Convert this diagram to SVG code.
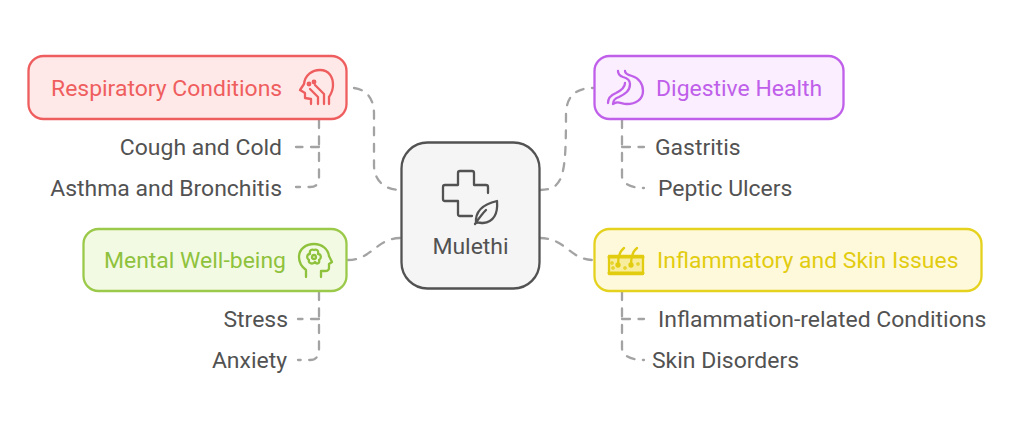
<svg xmlns="http://www.w3.org/2000/svg" width="1024" height="431" viewBox="0 0 1024 431">
<style>
text{font-family:Roboto,"Liberation Sans",sans-serif;font-size:22.95px}
.lab{fill:#525252}
.conn{fill:none;stroke:#a3a3a3;stroke-width:2.3;stroke-dasharray:8 8.5;stroke-linecap:round}
.ic{fill:none;stroke-width:2.3;stroke-linecap:round;stroke-linejoin:round}
</style>
<rect width="1024" height="431" fill="#fff"/>
<g id="connectors">
<path class="conn" d="M354 88C368 90 374 100 374 114V165C374 180 384 190 401 190"/>
<path class="conn" d="M319 120V178C319 184 316 187 310 187H296"/>
<path class="conn" d="M319 147H296"/>
<path class="conn" d="M348 260C372 260 376 238 401 238"/>
<path class="conn" d="M319 292V350C319 356 316 360 310 360H298"/>
<path class="conn" d="M319 319H298"/>
<path class="conn" d="M540 190C564 190 566 175 566 112C567 98 574 88 593 88"/>
<path class="conn" d="M622 120V176C622 183 630 188 644 188"/>
<path class="conn" d="M622 147H644"/>
<path class="conn" d="M540 238C566 238 570 260 593 260"/>
<path class="conn" d="M622 292V348C622 355 630 360 644 360"/>
<path class="conn" d="M622 319H644"/>
</g>
<g id="node-center">
<rect x="401.500" y="142.500" width="138" height="146" rx="26" fill="#f5f5f5" stroke="#525252" stroke-width="2.300"/>
<g class="ic" stroke="#525252">
<path d="M488 193V187C488 186 487 185 486 185H474V173C474 172 473 171 472 171H460C459 171 458 172 458 173V185H445C444 185 443 186 443 187V199C443 200 444 201 445 201H458V214C458 215 459 216 460 216H472"/>
<path d="M476 223C475 211 484 204 497 201C498 213 494 222 483 223C480 223 478 222 476 223M486 210C481 215 478 220 475 224"/>
</g>
<text class="lab" x="470.500" y="254" text-anchor="middle">Mulethi</text>
</g>
<g id="node-respiratory">
<rect x="28.500" y="56" width="318" height="63" rx="15" fill="#ffe8e8" stroke="#ef5e5e" stroke-width="2.300"/>
<text x="51" y="95.500" fill="#ef5e5e">Respiratory Conditions</text>
<g class="ic" stroke="#ef5e5e"><path d="M311 104V99L305 98V93L300 90L304 84C305 75 312 70 320 70C329 70 333 77 333 85C333 90 331 94 329 97V104"/><path d="M318 104V97L310 89M324 104V94L315 85"/><circle cx="309" cy="84" r="1.300"/><circle cx="314" cy="82" r="1.300"/></g>
</g>
<g id="node-cough"><text class="lab" x="282" y="154.500" text-anchor="end">Cough and Cold</text></g>
<g id="node-asthma"><text class="lab" x="282" y="195.500" text-anchor="end">Asthma and Bronchitis</text></g>
<g id="node-mental">
<rect x="83.500" y="229" width="263" height="62" rx="15" fill="#f3fae3" stroke="#9bc94a" stroke-width="2.300"/>
<text x="104" y="267.500" fill="#8fc23c">Mental Well-being</text>
<g class="ic" stroke="#8fc23c"><path d="M306 277V270C302 267 299 262 299 257C299 249 306 244 314 244C322 244 328 249 329 256L332 262L329 264V268C329 270 327 271 325 271H321V277"/><circle cx="314" cy="257" r="2"/><path d="M310 254C309 250 312 249 314 250C316 249 319 250 318 254C321 254 322 258 319 260C320 263 317 265 315 262C312 265 308 263 309 260C306 258 307 254 310 254Z"/></g>
</g>
<g id="node-stress"><text class="lab" x="288" y="326.500" text-anchor="end">Stress</text></g>
<g id="node-anxiety"><text class="lab" x="287" y="367.500" text-anchor="end">Anxiety</text></g>
<g id="node-digestive">
<rect x="594.500" y="56" width="249" height="63" rx="15" fill="#faeeff" stroke="#bf5fea" stroke-width="2.300"/>
<text x="656" y="95.500" fill="#bf5fea">Digestive Health</text>
<g class="ic" stroke="#bf5fea"><path d="M625 71C625 74 628 75 632 76C639 78 643 84 643 91C643 100 635 104 627 104C622 104 618 101 615 103L613 104C613 100 616 98 619 97C625 94 630 91 630 84C630 80 627 78 623 77C620 76 618 74 618 71"/><path d="M608 103C608 98 611 95 616 93C622 90 625 87 625 83"/></g>
</g>
<g id="node-gastritis"><text class="lab" x="655" y="154.500">Gastritis</text></g>
<g id="node-peptic"><text class="lab" x="658" y="195.500">Peptic Ulcers</text></g>
<g id="node-inflammatory">
<rect x="594.500" y="229" width="387" height="62" rx="15" fill="#fff9dc" stroke="#e4d21e" stroke-width="2.300"/>
<text x="657" y="267.500" fill="#e2cc10">Inflammatory and Skin Issues</text>
<g class="ic" stroke="#e2cc10"><path d="M609 256H643V274H609Z" fill="#f8ed9c"/><path d="M609 257H643M609 273H643" stroke-width="3"/><path d="M618 265C618 256 620 251 624 248M631 265C631 256 633 251 637 248"/><circle cx="618" cy="265" r="1.500" fill="#e2cc10"/><circle cx="631" cy="265" r="1.500" fill="#e2cc10"/><circle cx="612" cy="263" r=".6"/><circle cx="625" cy="268" r=".6"/><circle cx="638" cy="264" r=".6"/><circle cx="613" cy="268" r=".6"/></g>
</g>
<g id="node-inflammation"><text class="lab" x="658" y="326.500">Inflammation-related Conditions</text></g>
<g id="node-skin"><text class="lab" x="652" y="367.500">Skin Disorders</text></g>
</svg>
